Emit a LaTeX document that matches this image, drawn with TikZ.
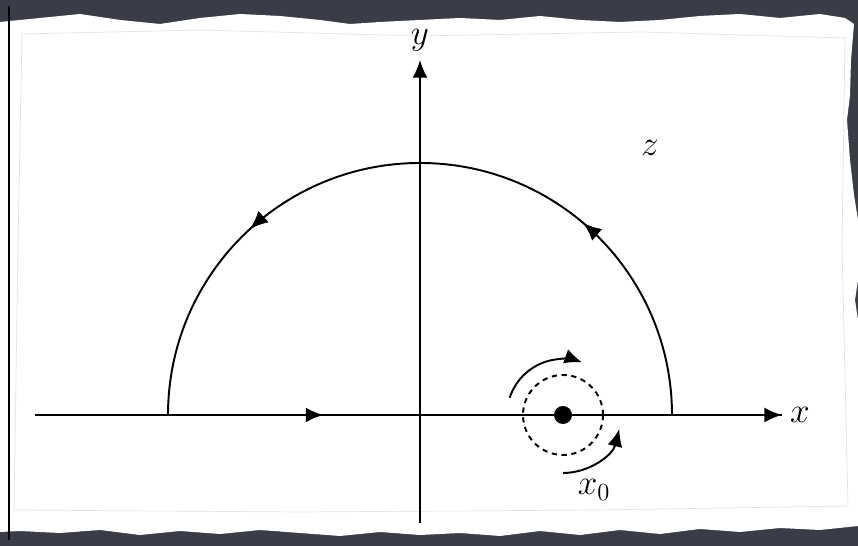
\RequirePackage{fix-cm}
\documentclass[tikz,border=0pt]{standalone}
\usetikzlibrary{calc, positioning}
\usetikzlibrary{arrows.meta}
\usetikzlibrary{decorations.markings}
\definecolor{edgegray}{RGB}{58,61,72}

\begin{document}
\begin{tikzpicture}[x=0.02cm, y=0.02cm,
  lbl/.style={font=\fontsize{20}{24}\selectfont},
  axis/.style={line width=1.1pt, -{Latex[length=10pt, width=8.5pt]}},
  turn/.style={line width=1.1pt, -{Latex[length=10pt, width=8.5pt]}},
  midtip/.style={postaction={decorate},
    decoration={markings, mark=at position #1 with {\arrow{Latex[length=10pt, width=8.5pt]}}}}]
\def\rad{252}
\def\dotrad{9}
\def\ringrad{40}

% torn paper frame
\fill[edgegray] (0,0) rectangle (858,546);
\fill[white] (0,524) -- (40,528) -- (80,532) -- (120,526) -- (160,522) -- (200,528)
  -- (240,532) -- (280,530) -- (320,526) -- (350,522) -- (380,524) -- (420,526)
  -- (460,528) -- (500,526) -- (540,530) -- (580,526) -- (620,524) -- (660,526)
  -- (700,530) -- (740,532) -- (780,528) -- (820,532) -- (845,528) -- (854,522)
  -- (851,486) -- (850,451) -- (847,426) -- (850,386) -- (854,351) -- (858,326)
  -- (858,266) -- (855,246) -- (858,226) -- (858,20) -- (820,16) -- (780,18)
  -- (740,14) -- (700,17) -- (660,12) -- (620,16) -- (580,11) -- (540,15)
  -- (500,10) -- (460,13) -- (420,11) -- (380,14) -- (340,10) -- (300,13)
  -- (260,16) -- (220,12) -- (180,15) -- (140,11) -- (100,16) -- (60,13)
  -- (20,15) -- (0,14) -- cycle;
\draw[gray!22, line width=0.4pt] (22,512) -- (200,516) -- (420,510) -- (640,514)
  -- (845,508) -- (842,300) -- (848,40) -- (600,36) -- (300,34) -- (14,36) -- (18,300) -- cycle;
\draw[line width=0.8pt] (9,6) -- (9,540);

\coordinate (O) at (420,131);
\coordinate (xL) at (35,131);
\coordinate (xR) at (782,131);
\coordinate (yB) at (420,23);
\coordinate (yT) at (420,486);
\coordinate (D) at (563,131);

% axes
\draw[axis] (xL) -- (xR);
\draw[axis] (yB) -- (yT);
\draw[line width=1.1pt, midtip=0.386] (xL) -- (xR);
\node[lbl] (xlab) at (800,131) {$x$};
\node[lbl] (ylab) at (420,506) {$y$};
\node[lbl] (zlab) at (650,398) {$z$};

% big half circle
\draw[line width=1.1pt, midtip=0.275, midtip=0.735]
  ($(O)+(\rad,0)$) arc[start angle=0, end angle=180, radius=\rad];

% small loop round x0
\fill (D) circle[radius=\dotrad];
\draw[line width=1.1pt, dash pattern=on 3pt off 2.6pt] (D) circle[radius=\ringrad];
\draw[turn] ($(D)+(162:56)$) arc[start angle=162, end angle=70, radius=56];
\draw[turn] ($(D)+(-90:58)$) arc[start angle=-90, end angle=-14, radius=58];
\node[lbl] (x0lab) at (594,56) {$x_0$};

\end{tikzpicture}
\end{document}
